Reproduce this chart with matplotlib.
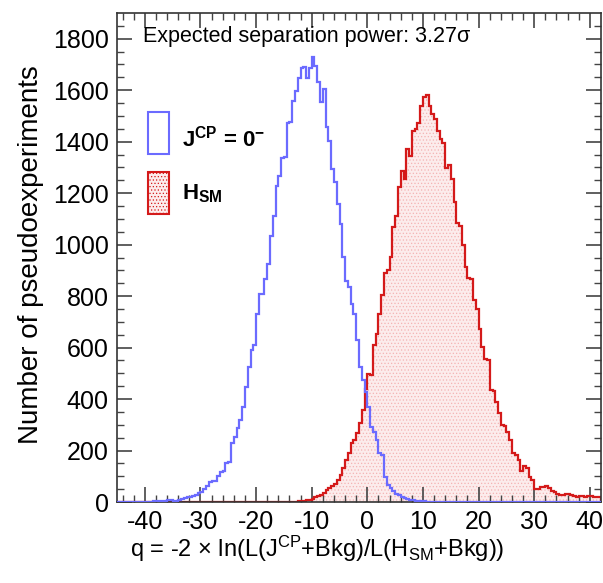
import numpy as np
import matplotlib
matplotlib.use("Agg")
import matplotlib.pyplot as plt
from matplotlib.patches import Rectangle

plt.rcParams['font.family'] = ['Liberation Sans', 'DejaVu Sans']
plt.rcParams['mathtext.fontset'] = 'custom'
plt.rcParams['mathtext.rm'] = 'Liberation Sans'
plt.rcParams['mathtext.bf'] = 'Liberation Sans:bold'
plt.rcParams['mathtext.it'] = 'Liberation Sans:italic'
plt.rcParams['hatch.linewidth'] = 0.5

# histogramas: bins de 0.5 entre -45 y 42
x_min, x_max, bin_w = -45.0, 42.0, 0.5

# J^CP = 0^- (azul), primer bin empieza en -40
blue_start = -40.0
blue_counts = [0, 1, 1, 2, 3, 2, 3, 4, 9, 6,
               3, 5, 8, 12, 14, 18, 18, 22, 27, 34,
               40, 51, 64, 77, 81, 81, 100, 115, 122, 150,
               154, 228, 254, 287, 319, 370, 448, 525, 590, 609,
               732, 807, 810, 867, 925, 1035, 1112, 1229, 1267, 1338,
               1340, 1474, 1478, 1558, 1597, 1646, 1687, 1690, 1646, 1687,
               1729, 1693, 1633, 1555, 1603, 1457, 1403, 1293, 1242, 1158,
               1080, 951, 860, 835, 770, 732, 628, 525, 474, 428,
               370, 293, 273, 241, 190, 183, 99, 67, 54, 41,
               32, 26, 20, 15, 11, 8, 6, 4, 3, 2,
               2, 1, 1, 1, 0]

# H_SM (rojo), primer bin empieza en -13
red_start = -13.0
red_counts = [1, 2, 3, 5, 6, 9, 12, 18, 22, 28,
              35, 45, 55, 62, 70, 84, 104, 132, 164, 192,
              229, 241, 270, 306, 357, 441, 499, 493, 609, 654,
              732, 803, 890, 900, 951, 1067, 1112, 1222, 1287, 1255,
              1371, 1345, 1442, 1448, 1474, 1538, 1575, 1580, 1538, 1506,
              1487, 1442, 1409, 1396, 1299, 1310, 1255, 1164, 1085, 1074,
              997, 913, 870, 865, 783, 750, 673, 602, 557, 550,
              434, 430, 389, 344, 299, 295, 273, 241, 190, 183,
              164, 119, 141, 132, 99, 87, 50, 52, 58, 60,
              63, 55, 42, 38, 30, 28, 28, 30, 32, 26,
              22, 20, 22, 25, 20, 22, 24, 20, 21, 18]

sep_power = 3.27
blue_label = r'$\mathbf{J^{CP}}$ = 0$^{\mathbf{-}}$'
red_label = r'$\mathbf{H_{SM}}$'

blue_col = '#6b6bff'
red_col = '#d41a1a'
pink = '#fcecec'

edges = np.arange(x_min, x_max + bin_w / 2, bin_w)
n_bins = len(edges) - 1


def full_hist(start, counts):
    # rellena con ceros fuera del rango leido
    h = np.zeros(n_bins)
    i0 = int(round((start - x_min) / bin_w))
    h[i0:i0 + len(counts)] = counts
    return h


blue = full_hist(blue_start, blue_counts)
red = full_hist(red_start, red_counts)

fig = plt.figure(figsize=(6.03, 5.83), dpi=100)
ax = fig.add_axes([117 / 603, 1 - 502 / 583, 484 / 603, 489 / 583])

ax.stairs(red, edges, fill=True, facecolor=pink, edgecolor='#f4b4b4',
          linewidth=0, hatch='.....', zorder=1)
ax.stairs(red, edges, color=red_col, linewidth=1.6, zorder=2)
ax.stairs(blue, edges, color=blue_col, linewidth=1.6, zorder=3)

ax.set_xlim(x_min, x_max)
ax.set_ylim(0, 1900)
ax.set_xticks(np.arange(-40, 41, 10))
ax.set_xticks(np.arange(-44, 42, 2), minor=True)
ax.set_yticks(np.arange(0, 1801, 200))
ax.set_yticks(np.arange(0, 1900, 50), minor=True)
ax.set_xticklabels(['-40', '-30', '-20', '-10', '0', '10', '20', '30', '40'])
ax.tick_params(which='both', direction='in', top=True, right=True,
               colors='#444444', labelcolor='black', labelsize=18)
ax.tick_params(which='major', length=11, width=1.2, pad=6)
ax.tick_params(which='minor', length=5, width=1.0)
for s in ax.spines.values():
    s.set_color('#333333')
    s.set_linewidth(1.2)

ax.text(0.054, 0.941, f'Expected separation power: {sep_power}σ',
        transform=ax.transAxes, fontsize=15.5, va='baseline', ha='left')

# leyenda hecha a mano
ax.add_patch(Rectangle((0.0634, 0.7117), 0.0446, 0.0865, transform=ax.transAxes,
                       facecolor='white', edgecolor=blue_col, linewidth=1.5, zorder=5))
ax.add_patch(Rectangle((0.0634, 0.589), 0.0446, 0.0865, transform=ax.transAxes,
                       facecolor=pink, edgecolor=red_col, linewidth=1.5,
                       hatch='.....', zorder=5))
ax.text(0.134, 0.728, blue_label, transform=ax.transAxes, fontsize=16,
        fontweight='bold', va='baseline', ha='left')
ax.text(0.134, 0.619, red_label, transform=ax.transAxes, fontsize=16,
        va='baseline', ha='left')

fig.text(317 / 603, 1 - 557 / 583,
         r'q = -2 $\times$ ln(L(J$^{\rm CP}$+Bkg)/L(H$_{\rm SM}$+Bkg))',
         fontsize=17, ha='center', va='baseline')
fig.text(31 / 603, 1 - 255 / 583, 'Number of pseudoexperiments',
         fontsize=20, rotation=90, ha='center', va='center')

fig.savefig('out.png', dpi=100)
